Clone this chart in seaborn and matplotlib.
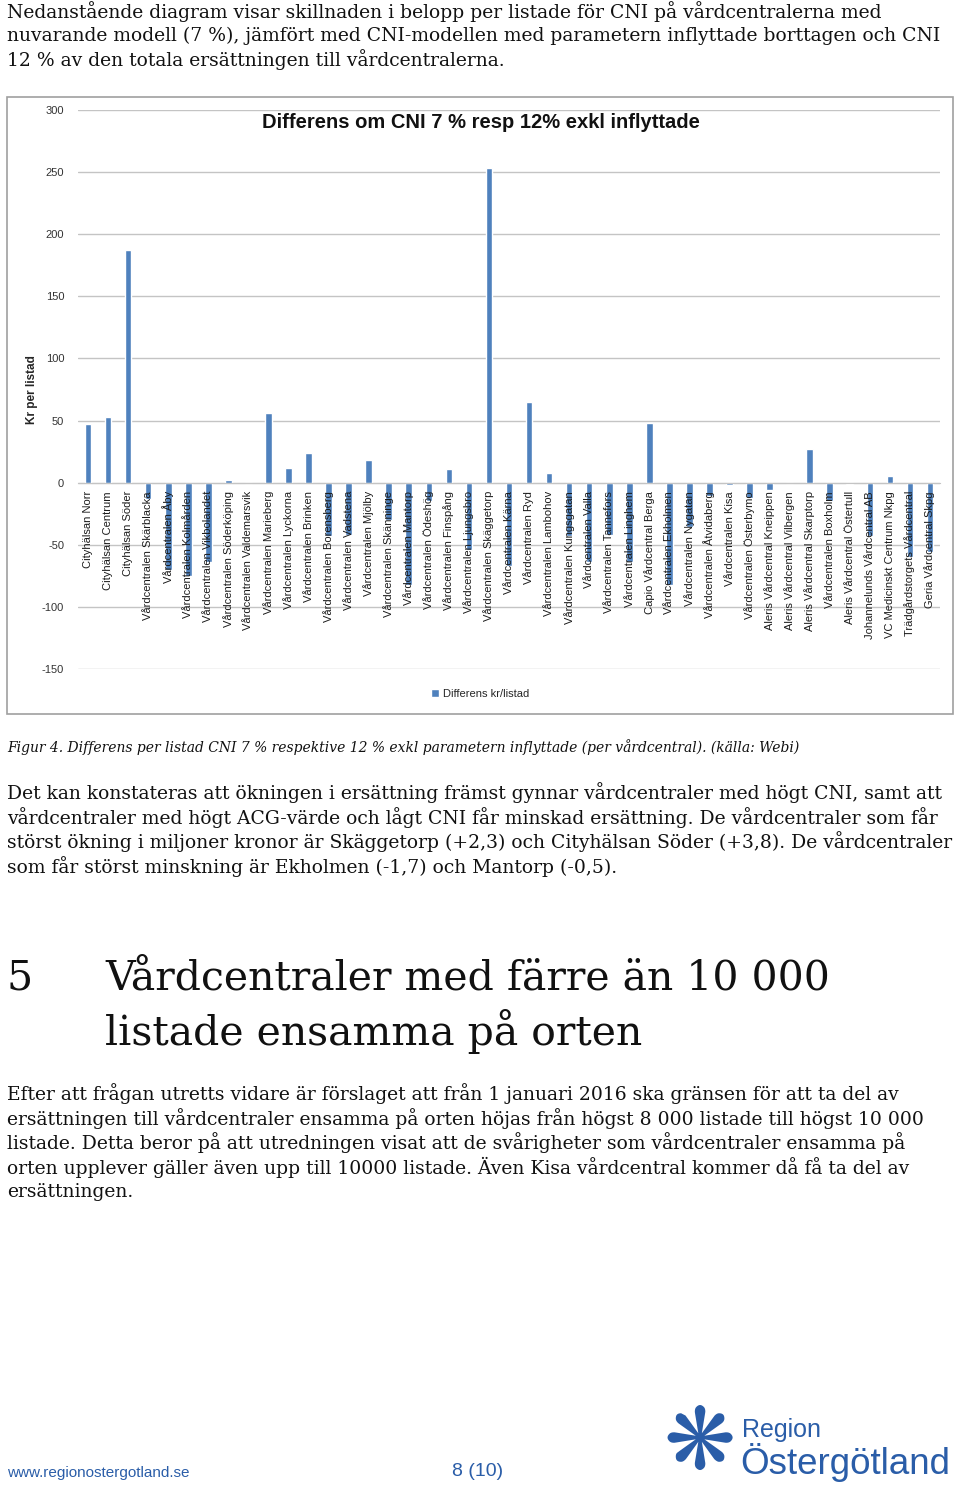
import matplotlib
matplotlib.use("Agg")
import matplotlib.pyplot as plt
from matplotlib.patches import Rectangle
import seaborn as sns

sns.set_style("white")
plt.rcParams["axes.unicode_minus"] = False

# Vårdcentraler (kategorier) och differens kr/listad
vardcentraler = [
    "Cityhälsan Norr", "Cityhälsan Centrum", "Cityhälsan Söder",
    "Vårdcentralen Skärblacka", "Vårdcentralen Åby", "Vårdcentralen Kolmården",
    "Vårdcentralen Vikbolandet", "Vårdcentralen Söderköping",
    "Vårdcentralen Valdemarsvik", "Vårdcentralen Marieberg",
    "Vårdcentralen Lyckorna", "Vårdcentralen Brinken", "Vårdcentralen Borensberg",
    "Vårdcentralen Vadstena", "Vårdcentralen Mjölby", "Vårdcentralen Skänninge",
    "Vårdcentralen Mantorp", "Vårdcentralen Ödeshög", "Vårdcentralen Finspång",
    "Vårdcentralen Ljungsbro", "Vårdcentralen Skäggetorp", "Vårdcentralen Kärna",
    "Vårdcentralen Ryd", "Vårdcentralen Lambohov", "Vårdcentralen Kungsgatan",
    "Vårdcentralen Valla", "Vårdcentralen Tannefors", "Vårdcentralen Linghem",
    "Capio Vårdcentral Berga", "Vårdcentralen Ekholmen", "Vårdcentralen Nygatan",
    "Vårdcentralen Åtvidaberg", "Vårdcentralen Kisa", "Vårdcentralen Österbymo",
    "Aleris Vårdcentral Kneippen", "Aleris Vårdcentral Vilbergen",
    "Aleris Vårdcentral Skarptorp", "Vårdcentralen Boxholm",
    "Aleris Vårdcentral Östertull", "Johannelunds Vårdcentral AB",
    "VC Medicinskt Centrum Nkpg", "Trädgårdstorgets Vårdcentral",
    "Geria Vårdcentral Skpg",
]
differens = [
    47, 53, 187, -13, -70, -75, -64, 2, 0, 56,
    12, 24, -43, -42, 18, -30, -82, -15, 11, -54,
    253, -67, 65, 8, -43, -64, -42, -64, 48, -82,
    -36, -11, -2, -12, -6, 0, 27, -15, -1, -43,
    5, -60, -56,
]
y_ticks = [300, 250, 200, 150, 100, 50, 0, -50, -100, -150]

titel = "Differens om CNI 7 % resp 12% exkl inflyttade"
serie = "Differens kr/listad"

stycke1 = [
    "Nedanstående diagram visar skillnaden i belopp per listade för CNI på vårdcentralerna med",
    "nuvarande modell (7 %), jämfört med CNI-modellen med parametern inflyttade borttagen och CNI",
    "12 % av den totala ersättningen till vårdcentralerna.",
]
figurtext = ("Figur 4. Differens per listad CNI 7 % respektive 12 % exkl parametern "
             "inflyttade (per vårdcentral). (källa: Webi)")
stycke2 = [
    "Det kan konstateras att ökningen i ersättning främst gynnar vårdcentraler med högt CNI, samt att",
    "vårdcentraler med högt ACG-värde och lågt CNI får minskad ersättning. De vårdcentraler som får",
    "störst ökning i miljoner kronor är Skäggetorp (+2,3) och Cityhälsan Söder (+3,8). De vårdcentraler",
    "som får störst minskning är Ekholmen (-1,7) och Mantorp (-0,5).",
]
rubrik = ["Vårdcentraler med färre än 10 000", "listade ensamma på orten"]
stycke3 = [
    "Efter att frågan utretts vidare är förslaget att från 1 januari 2016 ska gränsen för att ta del av",
    "ersättningen till vårdcentraler ensamma på orten höjas från högst 8 000 listade till högst 10 000",
    "listade. Detta beror på att utredningen visat att de svårigheter som vårdcentraler ensamma på",
    "orten upplever gäller även upp till 10000 listade. Även Kisa vårdcentral kommer då få ta del av",
    "ersättningen.",
]

W, H = 960, 1488
fig = plt.figure(figsize=(W / 100, H / 100), dpi=100)


def fx(px):
    return px / W


def fy(py):
    return 1 - py / H


serif = "DejaVu Serif"
sans = "Liberation Sans"
bla = "#4F81BD"
textfarg = "#111111"

# Diagrammet
ax = fig.add_axes([fx(78), fy(669), fx(940 - 78), (669 - 110) / H])
sns.barplot(x=vardcentraler, y=differens, color=bla, width=0.33,
            saturation=1, label=serie, ax=ax)
handles, labels = ax.get_legend_handles_labels()
if ax.get_legend() is not None:
    ax.get_legend().remove()
ax.set_ylim(-150, 300)
ax.set_yticks(y_ticks)
ax.set_yticklabels([str(v) for v in y_ticks], fontsize=8, color="#333333",
                   family=sans)
ax.yaxis.grid(True, color="#C4C4C4", lw=1)
ax.set_axisbelow(True)
for s in ["top", "right", "left"]:
    ax.spines[s].set_visible(False)
ax.spines["bottom"].set_position(("data", 0))
ax.spines["bottom"].set_color("#C4C4C4")
ax.tick_params(axis="y", length=0, pad=10)
ax.set_xticks(range(len(vardcentraler)))
ax.set_xticklabels([])
ax.tick_params(axis="x", length=0)
# kategorietiketter vid nollinjen, ovanpå staplarna
for i, namn in enumerate(vardcentraler):
    ax.annotate(namn, xy=(i, 0), xytext=(0, -6), textcoords="offset points",
                rotation=90, ha="center", va="top", fontsize=8, family=sans,
                color="#1A1A1A", zorder=5)
ax.set_ylabel("")
ax.set_xlabel("")
fig.text(fx(32), fy(390), "Kr per listad", rotation=90, fontsize=8.5,
         weight="bold", family=sans, ha="center", va="center")
fig.text(fx(481), fy(122), titel, fontsize=14.5, weight="bold", family=sans,
         ha="center", va="center", color="#111111")
fig.legend(handles, labels, loc="center", bbox_to_anchor=(fx(480), fy(694)),
           frameon=False, handlelength=0.7, handleheight=0.7,
           handletextpad=0.4, prop={"family": sans, "size": 8})
fig.patches.append(Rectangle((fx(7), fy(714)), fx(946), (714 - 97) / H,
                             transform=fig.transFigure, fill=False,
                             edgecolor="#A0A0A0", lw=1.2))

# Löptext
for i, rad in enumerate(stycke1):
    fig.text(fx(7), fy(12 + 24 * i), rad, fontsize=13.5, family=serif,
             color=textfarg, va="center")
fig.text(fx(7), fy(747), figurtext, fontsize=10, style="italic", family=serif,
         color=textfarg, va="center")
for i, rad in enumerate(stycke2):
    fig.text(fx(7), fy(793 + 24.4 * i), rad, fontsize=13.5, family=serif,
             color=textfarg, va="center")
fig.text(fx(7), fy(978), "5", fontsize=29.5, family=serif, color=textfarg,
         va="center")
for i, rad in enumerate(rubrik):
    fig.text(fx(105), fy(978 + 54 * i), rad, fontsize=29.5, family=serif,
             color=textfarg, va="center")
for i, rad in enumerate(stycke3):
    fig.text(fx(7), fy(1094 + 24.5 * i), rad, fontsize=13.5, family=serif,
             color=textfarg, va="center")

# Sidfot
fotfarg = "#2A5DA8"
fig.text(fx(7), fy(1473), "www.regionostergotland.se", fontsize=11,
         family=sans, color=fotfarg, va="center")
fig.text(fx(478), fy(1471), "8 (10)", fontsize=14, family=sans, color=fotfarg,
         ha="center", va="center")
fig.text(fx(700), fy(1445), "❋", fontsize=62, family="DejaVu Sans",
         color=fotfarg, ha="center", va="center")
fig.text(fx(742), fy(1430), "Region", fontsize=18, family=sans, color=fotfarg,
         va="center")
fig.text(fx(740), fy(1462), "Östergötland", fontsize=26.5, family=sans,
         color=fotfarg, va="center")

fig.savefig("out.png", dpi=100)
